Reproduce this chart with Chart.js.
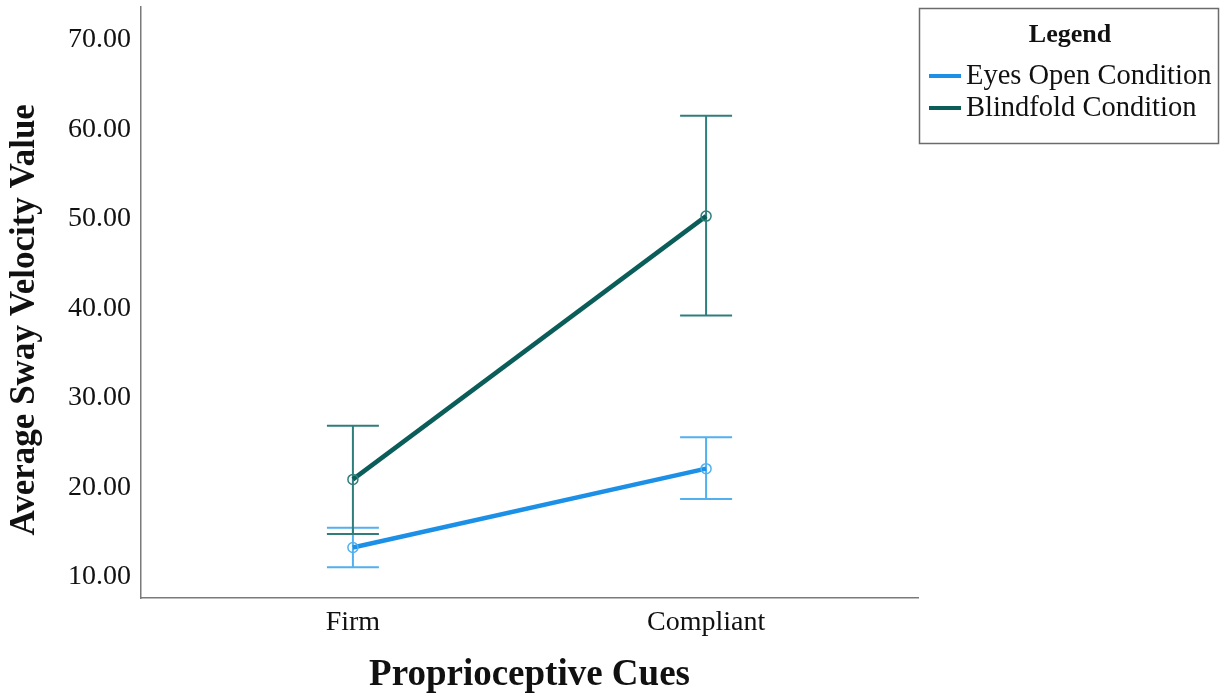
<!DOCTYPE html>
<html>
<head>
<meta charset="utf-8">
<script src="https://cdn.jsdelivr.net/npm/chart.js@4.4.1/dist/chart.umd.min.js"></script>
<style>
  html, body { margin: 0; padding: 0; background: #fff; }
  canvas { display: block; }
</style>
</head>
<body>
<canvas id="sway" width="1221" height="700"></canvas>
<script>
// categorias y valores
const categories = ['Firm', 'Compliant'];
const eyesOpenMean = [13.3, 22.1];
const eyesOpenLow = [11.1, 18.7];
const eyesOpenHigh = [15.5, 25.6];
const blindMean = [20.9, 50.3];
const blindLow = [14.8, 39.2];
const blindHigh = [26.9, 61.5];
const yTicks = [10, 20, 30, 40, 50, 60, 70];
const seriesNames = ['Eyes Open Condition', 'Blindfold Condition'];

const serif = '"Liberation Serif", "Times New Roman", serif';
const blue = '#1b90e6';
const blueBar = '#52b0ef';
const teal = '#0b5d59';
const tealBar = '#2f7e7b';

const errorBars = [
    { low: eyesOpenLow, high: eyesOpenHigh, color: blueBar },
    { low: blindLow, high: blindHigh, color: tealBar }
];

// dibuja las barras de error antes de las lineas
const errorBarPlugin = {
    id: 'errorBars',
    beforeDatasetsDraw(chart) {
        const ctx = chart.ctx;
        const xs = chart.scales.x;
        const ys = chart.scales.y;
        ctx.save();
        errorBars.forEach(eb => {
            ctx.strokeStyle = eb.color;
            ctx.lineWidth = 2;
            categories.forEach((c, i) => {
                const x = xs.getPixelForValue(i);
                const yl = ys.getPixelForValue(eb.low[i]);
                const yh = ys.getPixelForValue(eb.high[i]);
                ctx.beginPath();
                ctx.moveTo(x, yl); ctx.lineTo(x, yh);
                ctx.moveTo(x - 26, yl); ctx.lineTo(x + 26, yl);
                ctx.moveTo(x - 26, yh); ctx.lineTo(x + 26, yh);
                ctx.stroke();
            });
        });
        ctx.restore();
    }
};

// leyenda con recuadro a la derecha
const boxLegendPlugin = {
    id: 'boxLegend',
    afterDraw(chart) {
        const ctx = chart.ctx;
        ctx.save();
        ctx.strokeStyle = '#6b6b6b';
        ctx.lineWidth = 1.5;
        ctx.strokeRect(919.5, 8.5, 299, 135);
        ctx.fillStyle = '#111';
        ctx.textBaseline = 'middle';
        ctx.textAlign = 'center';
        ctx.font = 'bold 26px ' + serif;
        ctx.fillText('Legend', 1070, 35);
        ctx.textAlign = 'left';
        ctx.font = '28.5px ' + serif;
        const colors = [blue, teal];
        seriesNames.forEach((name, i) => {
            const y = 76 + i * 32;
            ctx.strokeStyle = colors[i];
            ctx.lineWidth = 4;
            ctx.beginPath();
            ctx.moveTo(929, y); ctx.lineTo(961, y);
            ctx.stroke();
            ctx.fillText(name, 966, y + 1);
        });
        ctx.restore();
    }
};

const toPoints = arr => arr.map((v, i) => ({ x: i, y: v }));

const config = {
    type: 'line',
    data: {
        datasets: [
            {
                label: seriesNames[0],
                data: toPoints(eyesOpenMean),
                borderColor: blue,
                borderWidth: 4.5,
                pointRadius: 5,
                pointBorderWidth: 1.5,
                pointBorderColor: blueBar,
                pointBackgroundColor: 'rgba(255,255,255,0)',
                tension: 0
            },
            {
                label: seriesNames[1],
                data: toPoints(blindMean),
                borderColor: teal,
                borderWidth: 4.5,
                pointRadius: 5,
                pointBorderWidth: 1.5,
                pointBorderColor: tealBar,
                pointBackgroundColor: 'rgba(255,255,255,0)',
                tension: 0
            }
        ]
    },
    options: {
        responsive: false,
        animation: false,
        layout: { padding: { top: 5, right: 303, left: 0, bottom: 0 } },
        plugins: {
            legend: { display: false },
            tooltip: { enabled: false }
        },
        scales: {
            x: {
                type: 'linear',
                min: -0.6,
                max: 1.6,
                afterBuildTicks: scale => { scale.ticks = categories.map((c, i) => ({ value: i })); },
                afterFit: scale => { scale.height = 102; scale.paddingLeft = 0; scale.paddingRight = 0; },
                grid: { display: false, drawTicks: false },
                border: { display: true, color: '#7a7a7a', width: 1.5 },
                ticks: {
                    padding: 8,
                    color: '#111',
                    font: { family: serif, size: 28 },
                    callback: v => categories[v]
                },
                title: {
                    display: true,
                    text: 'Proprioceptive Cues',
                    color: '#111',
                    font: { family: serif, size: 37, weight: 'bold' },
                    padding: { top: 0, bottom: 2 }
                }
            },
            y: {
                min: 7.66,
                max: 73.7,
                afterBuildTicks: scale => { scale.ticks = yTicks.map(v => ({ value: v })); },
                afterFit: scale => { scale.width = 141; scale.paddingTop = 0; scale.paddingBottom = 0; },
                grid: { display: false, drawTicks: false },
                border: { display: true, color: '#7a7a7a', width: 1.5 },
                ticks: {
                    padding: 10,
                    color: '#111',
                    font: { family: serif, size: 28 },
                    callback: v => v.toFixed(2)
                },
                title: {
                    display: true,
                    // espacios finales para bajar un poco el titulo
                    text: 'Average Sway Velocity Value\u00a0\u00a0\u00a0\u00a0',
                    color: '#111',
                    font: { family: serif, size: 35, weight: 'bold' },
                    padding: { top: 4, bottom: 0 }
                }
            }
        }
    },
    plugins: [errorBarPlugin, boxLegendPlugin]
};

window.swayChart = new Chart(document.getElementById('sway'), config);
</script>
</body>
</html>
